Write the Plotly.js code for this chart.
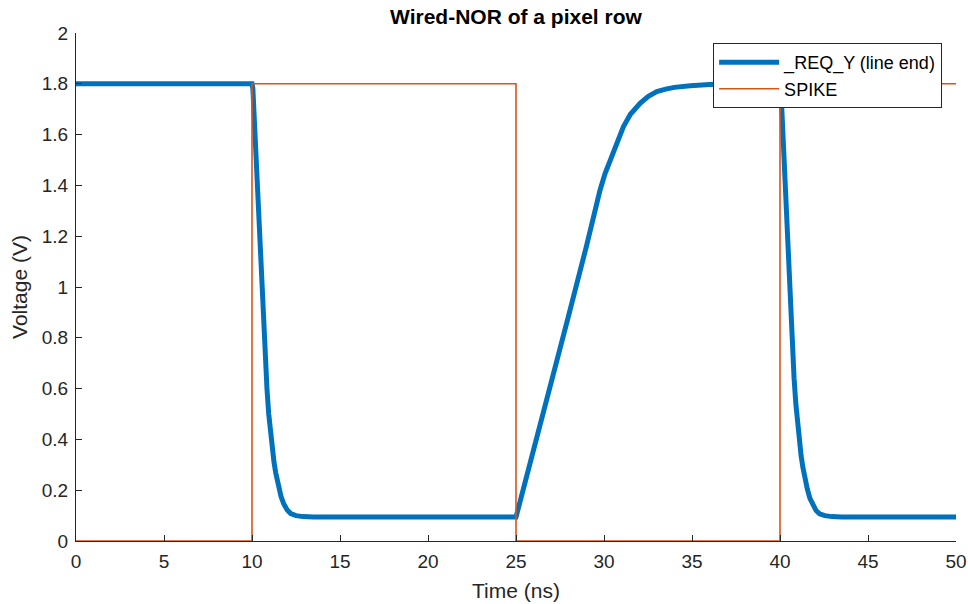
<!DOCTYPE html>
<html>
<head>
<meta charset="utf-8">
<script src="https://cdn.plot.ly/plotly-3.0.1.min.js"></script>
<style>html,body{margin:0;padding:0;background:#fff}#chart{width:968px;height:604px}</style>
</head>
<body>
<div id="chart"></div>
<script>
// _REQ_Y (line end) waveform
var reqTime = [0, 10, 10.05, 10.15, 10.3, 10.45, 10.6, 10.75, 10.85, 10.95, 11.05, 11.15, 11.25, 11.35, 11.5, 11.65, 11.8, 12.0, 12.2, 12.5, 12.9, 13.5, 25,
  26.46, 28, 29, 29.5, 29.77, 30.05, 30.34, 30.7, 31.1, 31.5, 32.05, 32.5, 33, 33.5, 34, 34.9, 36, 38, 40,
  40.05, 40.15, 40.3, 40.5, 40.65, 40.8, 40.9, 41.0, 41.1, 41.2, 41.3, 41.4, 41.55, 41.7, 41.85, 42.05, 42.25, 42.55, 42.95, 43.5, 50];
var reqVolt = [1.8, 1.8, 1.78, 1.62, 1.38, 1.15, 0.92, 0.72, 0.6, 0.5, 0.42, 0.36, 0.31, 0.268, 0.215, 0.175, 0.147, 0.122, 0.108, 0.1, 0.096, 0.094, 0.094,
  0.476, 0.89, 1.16, 1.31, 1.38, 1.445, 1.5, 1.567, 1.631, 1.68, 1.723, 1.75, 1.769, 1.779, 1.786, 1.792, 1.797, 1.8, 1.8,
  1.78, 1.62, 1.38, 1.05, 0.82, 0.64, 0.54, 0.46, 0.39, 0.335, 0.29, 0.25, 0.205, 0.168, 0.142, 0.12, 0.107, 0.1, 0.096, 0.094, 0.094];
// SPIKE waveform
var spikeTime = [0, 10, 10, 25, 25, 40, 40, 50];
var spikeVolt = [0, 0, 1.8, 1.8, 0, 0, 1.8, 1.8];
// axis ticks
var xTicks = [0, 5, 10, 15, 20, 25, 30, 35, 40, 45, 50];
var yTicks = [0, 0.2, 0.4, 0.6, 0.8, 1, 1.2, 1.4, 1.6, 1.8, 2];
var yTickText = ['0', '0.2', '0.4', '0.6', '0.8', '1', '1.2', '1.4', '1.6', '1.8', '2'];

var FONT = 'Liberation Sans, Arial, Helvetica, sans-serif';
var traces = [
  {x: reqTime, y: reqVolt, type: 'scatter', mode: 'lines', name: '_REQ_Y (line end)',
   line: {color: '#0072BD', width: 5}},
  {x: spikeTime, y: spikeVolt, type: 'scatter', mode: 'lines', name: 'SPIKE',
   line: {color: '#D95319', width: 1.6}}
];
var layout = {
  width: 968, height: 604,
  margin: {l: 76, r: 12, t: 33, b: 63},
  paper_bgcolor: '#fff', plot_bgcolor: '#fff',
  font: {family: FONT, color: '#262626', size: 19},
  title: {text: '<b>Wired-NOR of a pixel row</b>', font: {family: FONT, size: 21, color: '#000'},
          x: 0.533, xanchor: 'center', y: 0.985, yanchor: 'top'},
  xaxis: {range: [0, 50], tickvals: xTicks, ticktext: xTicks.map(String), ticks: 'inside', ticklen: 6,
          tickcolor: '#262626', showline: true, linecolor: '#262626', linewidth: 1, showgrid: false,
          zeroline: false, mirror: false, tickfont: {size: 19}, ticklabelstandoff: 3,
          title: {text: 'Time (ns)', font: {size: 21}, standoff: 12}},
  yaxis: {range: [0, 2], tickvals: yTicks, ticktext: yTickText, ticks: 'inside', ticklen: 6,
          tickcolor: '#262626', showline: true, linecolor: '#262626', linewidth: 1, showgrid: false,
          zeroline: false, mirror: false, tickfont: {size: 19}, ticklabelstandoff: 3,
          title: {text: 'Voltage (V)', font: {size: 21}, standoff: 8}},
  showlegend: true,
  legend: {x: 0.724, y: 0.98, xanchor: 'left', yanchor: 'top', bordercolor: '#262626', borderwidth: 1,
           bgcolor: '#fff', font: {size: 18, color: '#000'}, itemwidth: 60, tracegroupgap: 0}
};
Plotly.newPlot('chart', traces, layout, {displayModeBar: false, staticPlot: true});
</script>
</body>
</html>
